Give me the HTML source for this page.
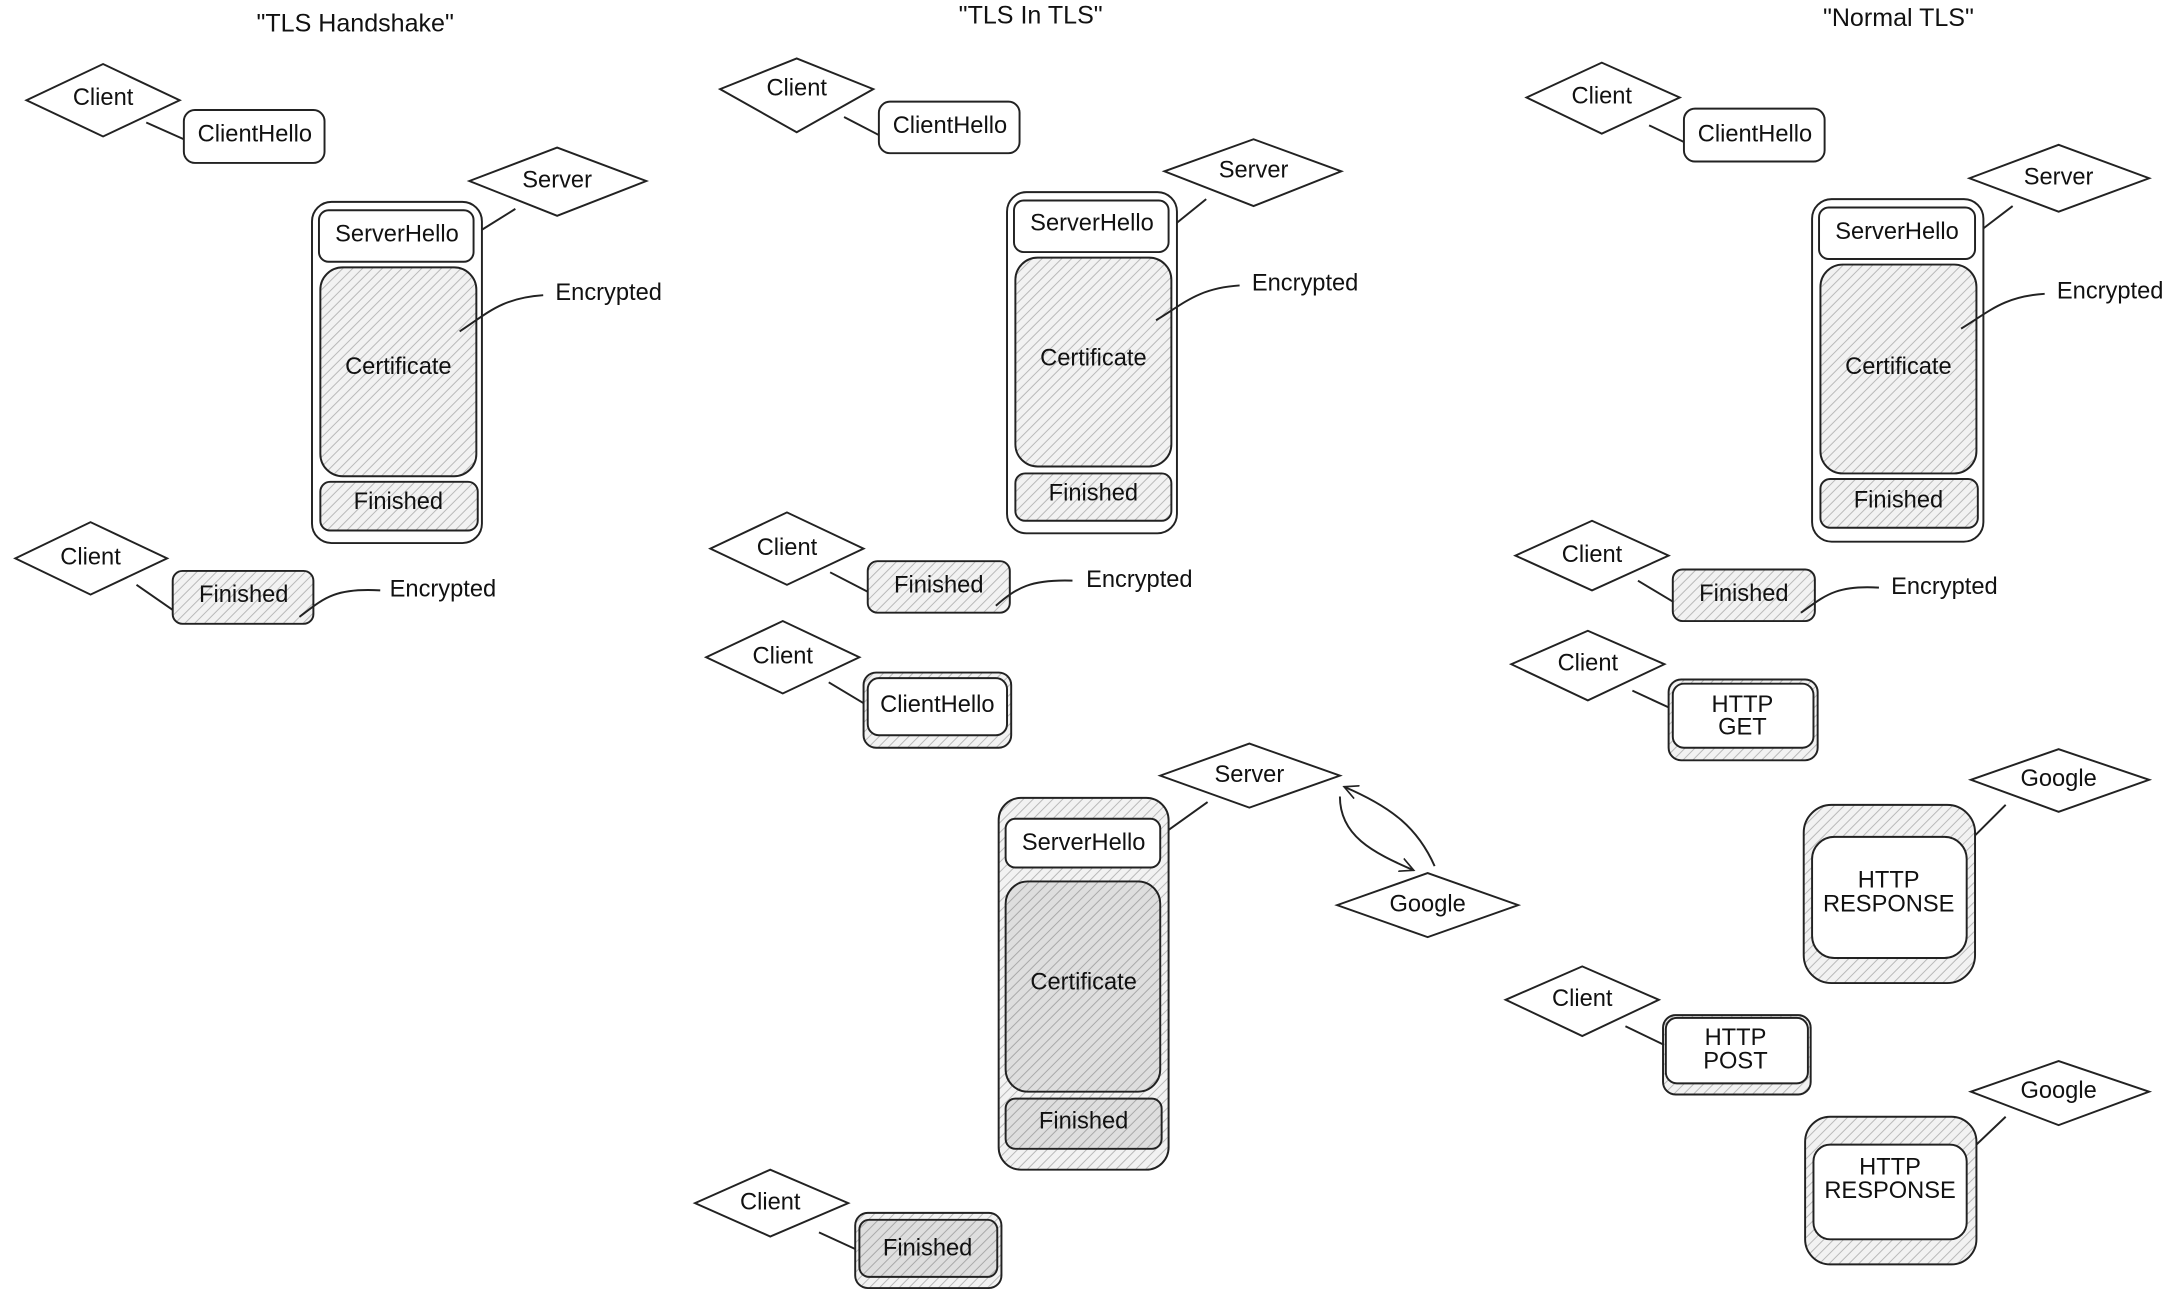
<!DOCTYPE html>
<html><head><meta charset="utf-8"><style>
html,body{margin:0;padding:0;background:#fff;}
svg{display:block;}
text{font-family:"Liberation Sans",sans-serif;font-size:17px;fill:#111;text-anchor:middle;dominant-baseline:middle;}
.t{font-size:18px;}
</style></head><body>
<svg width="2177" height="1295" viewBox="0 0 1563 930" preserveAspectRatio="none" xmlns="http://www.w3.org/2000/svg">
<defs>
<pattern id="h" patternUnits="userSpaceOnUse" width="5" height="5" patternTransform="rotate(45)">
<rect width="5" height="5" fill="#f2f2f2"/><line x1="0" y1="0" x2="0" y2="5" stroke="#b8b8b8" stroke-width="1.4"/></pattern>
<pattern id="hd" patternUnits="userSpaceOnUse" width="5" height="5" patternTransform="rotate(45)">
<rect width="5" height="5" fill="#dedede"/><line x1="0" y1="0" x2="0" y2="5" stroke="#a8a8a8" stroke-width="1.4"/></pattern>
<marker id="ar" markerWidth="12" markerHeight="12" refX="10" refY="6" orient="auto" markerUnits="userSpaceOnUse"><path d="M0,1 L10,6 L0,11" fill="none" stroke="#222" stroke-width="1.2"/></marker>
</defs>
<g fill="none" stroke="#222" stroke-width="1.4">
<!-- Column 1 -->
<polygon points="19,72 74,46 129,72 74,98" fill="#fff"/>
<line x1="105" y1="88" x2="132" y2="100"/>
<rect x="132" y="79" width="101" height="38" rx="8" fill="#fff"/>
<polygon points="337,130 400,106 464,130 400,155" fill="#fff"/>
<line x1="370" y1="150" x2="346" y2="165"/>
<rect x="224" y="145" width="122" height="245" rx="14" fill="#fff"/>
<rect x="229" y="151" width="111" height="37" rx="7" fill="#fff"/>
<rect x="230" y="192" width="112" height="150" rx="16" fill="url(#h)"/>
<rect x="230" y="346" width="113" height="35" rx="7" fill="url(#h)"/>
<path d="M390,212 C360,214 350,225 330,238"/>
<polygon points="11,401 65,375 120,401 65,427" fill="#fff"/>
<line x1="98" y1="420" x2="124" y2="438"/>
<rect x="124" y="410" width="101" height="38" rx="7" fill="url(#h)"/>
<path d="M273,424 C240,422 232,430 215,443"/>
<!-- Column 2 -->
<polygon points="517,64 572,42 627,64 572,95" fill="#fff"/>
<line x1="606" y1="84" x2="631" y2="97"/>
<rect x="631" y="73" width="101" height="37" rx="8" fill="#fff"/>
<polygon points="836,123 900,100 963,123 900,148" fill="#fff"/>
<line x1="866" y1="143" x2="845" y2="160"/>
<rect x="723" y="138" width="122" height="245" rx="14" fill="#fff"/>
<rect x="728" y="144" width="111" height="37" rx="7" fill="#fff"/>
<rect x="729" y="185" width="112" height="150" rx="16" fill="url(#h)"/>
<rect x="729" y="340" width="112" height="34" rx="7" fill="url(#h)"/>
<path d="M890,205 C860,207 850,218 830,230"/>
<polygon points="510,394 565,368 620,394 565,420" fill="#fff"/>
<line x1="596" y1="411" x2="623" y2="425"/>
<rect x="623" y="403" width="102" height="37" rx="7" fill="url(#h)"/>
<path d="M770,417 C740,416 730,422 715,435"/>
<polygon points="507,472 562,446 617,472 562,498" fill="#fff"/>
<line x1="595" y1="490" x2="620" y2="505"/>
<rect x="620" y="483" width="106" height="54" rx="9" fill="url(#h)"/>
<rect x="623" y="487" width="100" height="41" rx="8" fill="#fff"/>
<polygon points="833,557 897,534 962,557 897,580" fill="#fff"/>
<line x1="867" y1="576" x2="839" y2="596"/>
<rect x="717" y="573" width="122" height="267" rx="16" fill="url(#h)"/>
<rect x="722" y="588" width="111" height="35" rx="7" fill="#fff"/>
<rect x="722" y="633" width="111" height="151" rx="16" fill="url(#hd)"/>
<rect x="722" y="789" width="112" height="36" rx="7" fill="url(#hd)"/>
<path d="M962,572 C962,600 985,612 1015,625" marker-end="url(#ar)"/>
<path d="M1030,622 C1018,595 1000,580 965,565" marker-end="url(#ar)"/>
<polygon points="960,650 1025,627 1090,650 1025,673" fill="#fff"/>
<polygon points="499,864 553,840 609,864 553,888" fill="#fff"/>
<line x1="588" y1="885" x2="614" y2="897"/>
<rect x="614" y="871" width="105" height="54" rx="9" fill="url(#h)"/>
<rect x="617" y="876" width="99" height="41" rx="7" fill="url(#hd)"/>
<!-- Column 3 -->
<polygon points="1096,70 1150,45 1206,70 1150,96" fill="#fff"/>
<line x1="1184" y1="90" x2="1209" y2="102"/>
<rect x="1209" y="78" width="101" height="38" rx="8" fill="#fff"/>
<polygon points="1414,128 1478,104 1543,128 1478,152" fill="#fff"/>
<line x1="1445" y1="148" x2="1424" y2="164"/>
<rect x="1301" y="143" width="123" height="246" rx="14" fill="#fff"/>
<rect x="1306" y="149" width="112" height="37" rx="7" fill="#fff"/>
<rect x="1307" y="190" width="112" height="150" rx="16" fill="url(#h)"/>
<rect x="1307" y="344" width="113" height="35" rx="7" fill="url(#h)"/>
<path d="M1468,211 C1438,213 1428,224 1408,236"/>
<polygon points="1088,399 1143,374 1198,399 1143,424" fill="#fff"/>
<line x1="1176" y1="417" x2="1201" y2="432"/>
<rect x="1201" y="409" width="102" height="37" rx="7" fill="url(#h)"/>
<path d="M1349,422 C1318,420 1310,428 1293,440"/>
<polygon points="1085,477 1140,453 1195,477 1140,503" fill="#fff"/>
<line x1="1172" y1="496" x2="1198" y2="508"/>
<rect x="1198" y="488" width="107" height="58" rx="9" fill="url(#h)"/>
<rect x="1201" y="491" width="101" height="46" rx="8" fill="#fff"/>
<polygon points="1415,560 1478,538 1543,560 1478,583" fill="#fff"/>
<line x1="1440" y1="578" x2="1418" y2="600"/>
<rect x="1295" y="578" width="123" height="128" rx="20" fill="url(#h)"/>
<rect x="1301" y="601" width="111" height="87" rx="16" fill="#fff"/>
<polygon points="1081,718 1136,694 1191,718 1136,744" fill="#fff"/>
<line x1="1167" y1="737" x2="1194" y2="750"/>
<rect x="1194" y="729" width="106" height="57" rx="9" fill="url(#h)"/>
<rect x="1196" y="731" width="102" height="47" rx="8" fill="#fff"/>
<polygon points="1415,784 1478,762 1543,784 1478,808" fill="#fff"/>
<line x1="1440" y1="802" x2="1419" y2="822"/>
<rect x="1296" y="802" width="123" height="106" rx="18" fill="url(#h)"/>
<rect x="1302" y="822" width="110" height="68" rx="12" fill="#fff"/>
</g>
<g>
<text class="t" x="255" y="18">"TLS Handshake"</text>
<text class="t" x="740" y="12">"TLS In TLS"</text>
<text class="t" x="1363" y="14">"Normal TLS"</text>
<text x="74" y="71">Client</text><text x="183" y="97">ClientHello</text>
<text x="400" y="130">Server</text><text x="285" y="169">ServerHello</text>
<text x="286" y="264">Certificate</text><text x="286" y="361">Finished</text>
<text x="437" y="211">Encrypted</text>
<text x="65" y="401">Client</text><text x="175" y="428">Finished</text><text x="318" y="424">Encrypted</text>
<text x="572" y="64">Client</text><text x="682" y="91">ClientHello</text>
<text x="900" y="123">Server</text><text x="784" y="161">ServerHello</text>
<text x="785" y="258">Certificate</text><text x="785" y="355">Finished</text>
<text x="937" y="204">Encrypted</text>
<text x="565" y="394">Client</text><text x="674" y="421">Finished</text><text x="818" y="417">Encrypted</text>
<text x="562" y="472">Client</text><text x="673" y="507">ClientHello</text>
<text x="897" y="557">Server</text><text x="778" y="606">ServerHello</text>
<text x="778" y="706">Certificate</text><text x="778" y="806">Finished</text>
<text x="1025" y="650">Google</text>
<text x="553" y="864">Client</text><text x="666" y="897">Finished</text>
<text x="1150" y="70">Client</text><text x="1260" y="97">ClientHello</text>
<text x="1478" y="128">Server</text><text x="1362" y="167">ServerHello</text>
<text x="1363" y="264">Certificate</text><text x="1363" y="360">Finished</text>
<text x="1515" y="210">Encrypted</text>
<text x="1143" y="399">Client</text><text x="1252" y="427">Finished</text><text x="1396" y="422">Encrypted</text>
<text x="1140" y="477">Client</text><text x="1251" y="507">HTTP</text><text x="1251" y="523">GET</text>
<text x="1478" y="560">Google</text><text x="1356" y="633">HTTP</text><text x="1356" y="650">RESPONSE</text>
<text x="1136" y="718">Client</text><text x="1246" y="746">HTTP</text><text x="1246" y="763">POST</text>
<text x="1478" y="784">Google</text><text x="1357" y="839">HTTP</text><text x="1357" y="856">RESPONSE</text>
</g>
</svg>
</body></html>
